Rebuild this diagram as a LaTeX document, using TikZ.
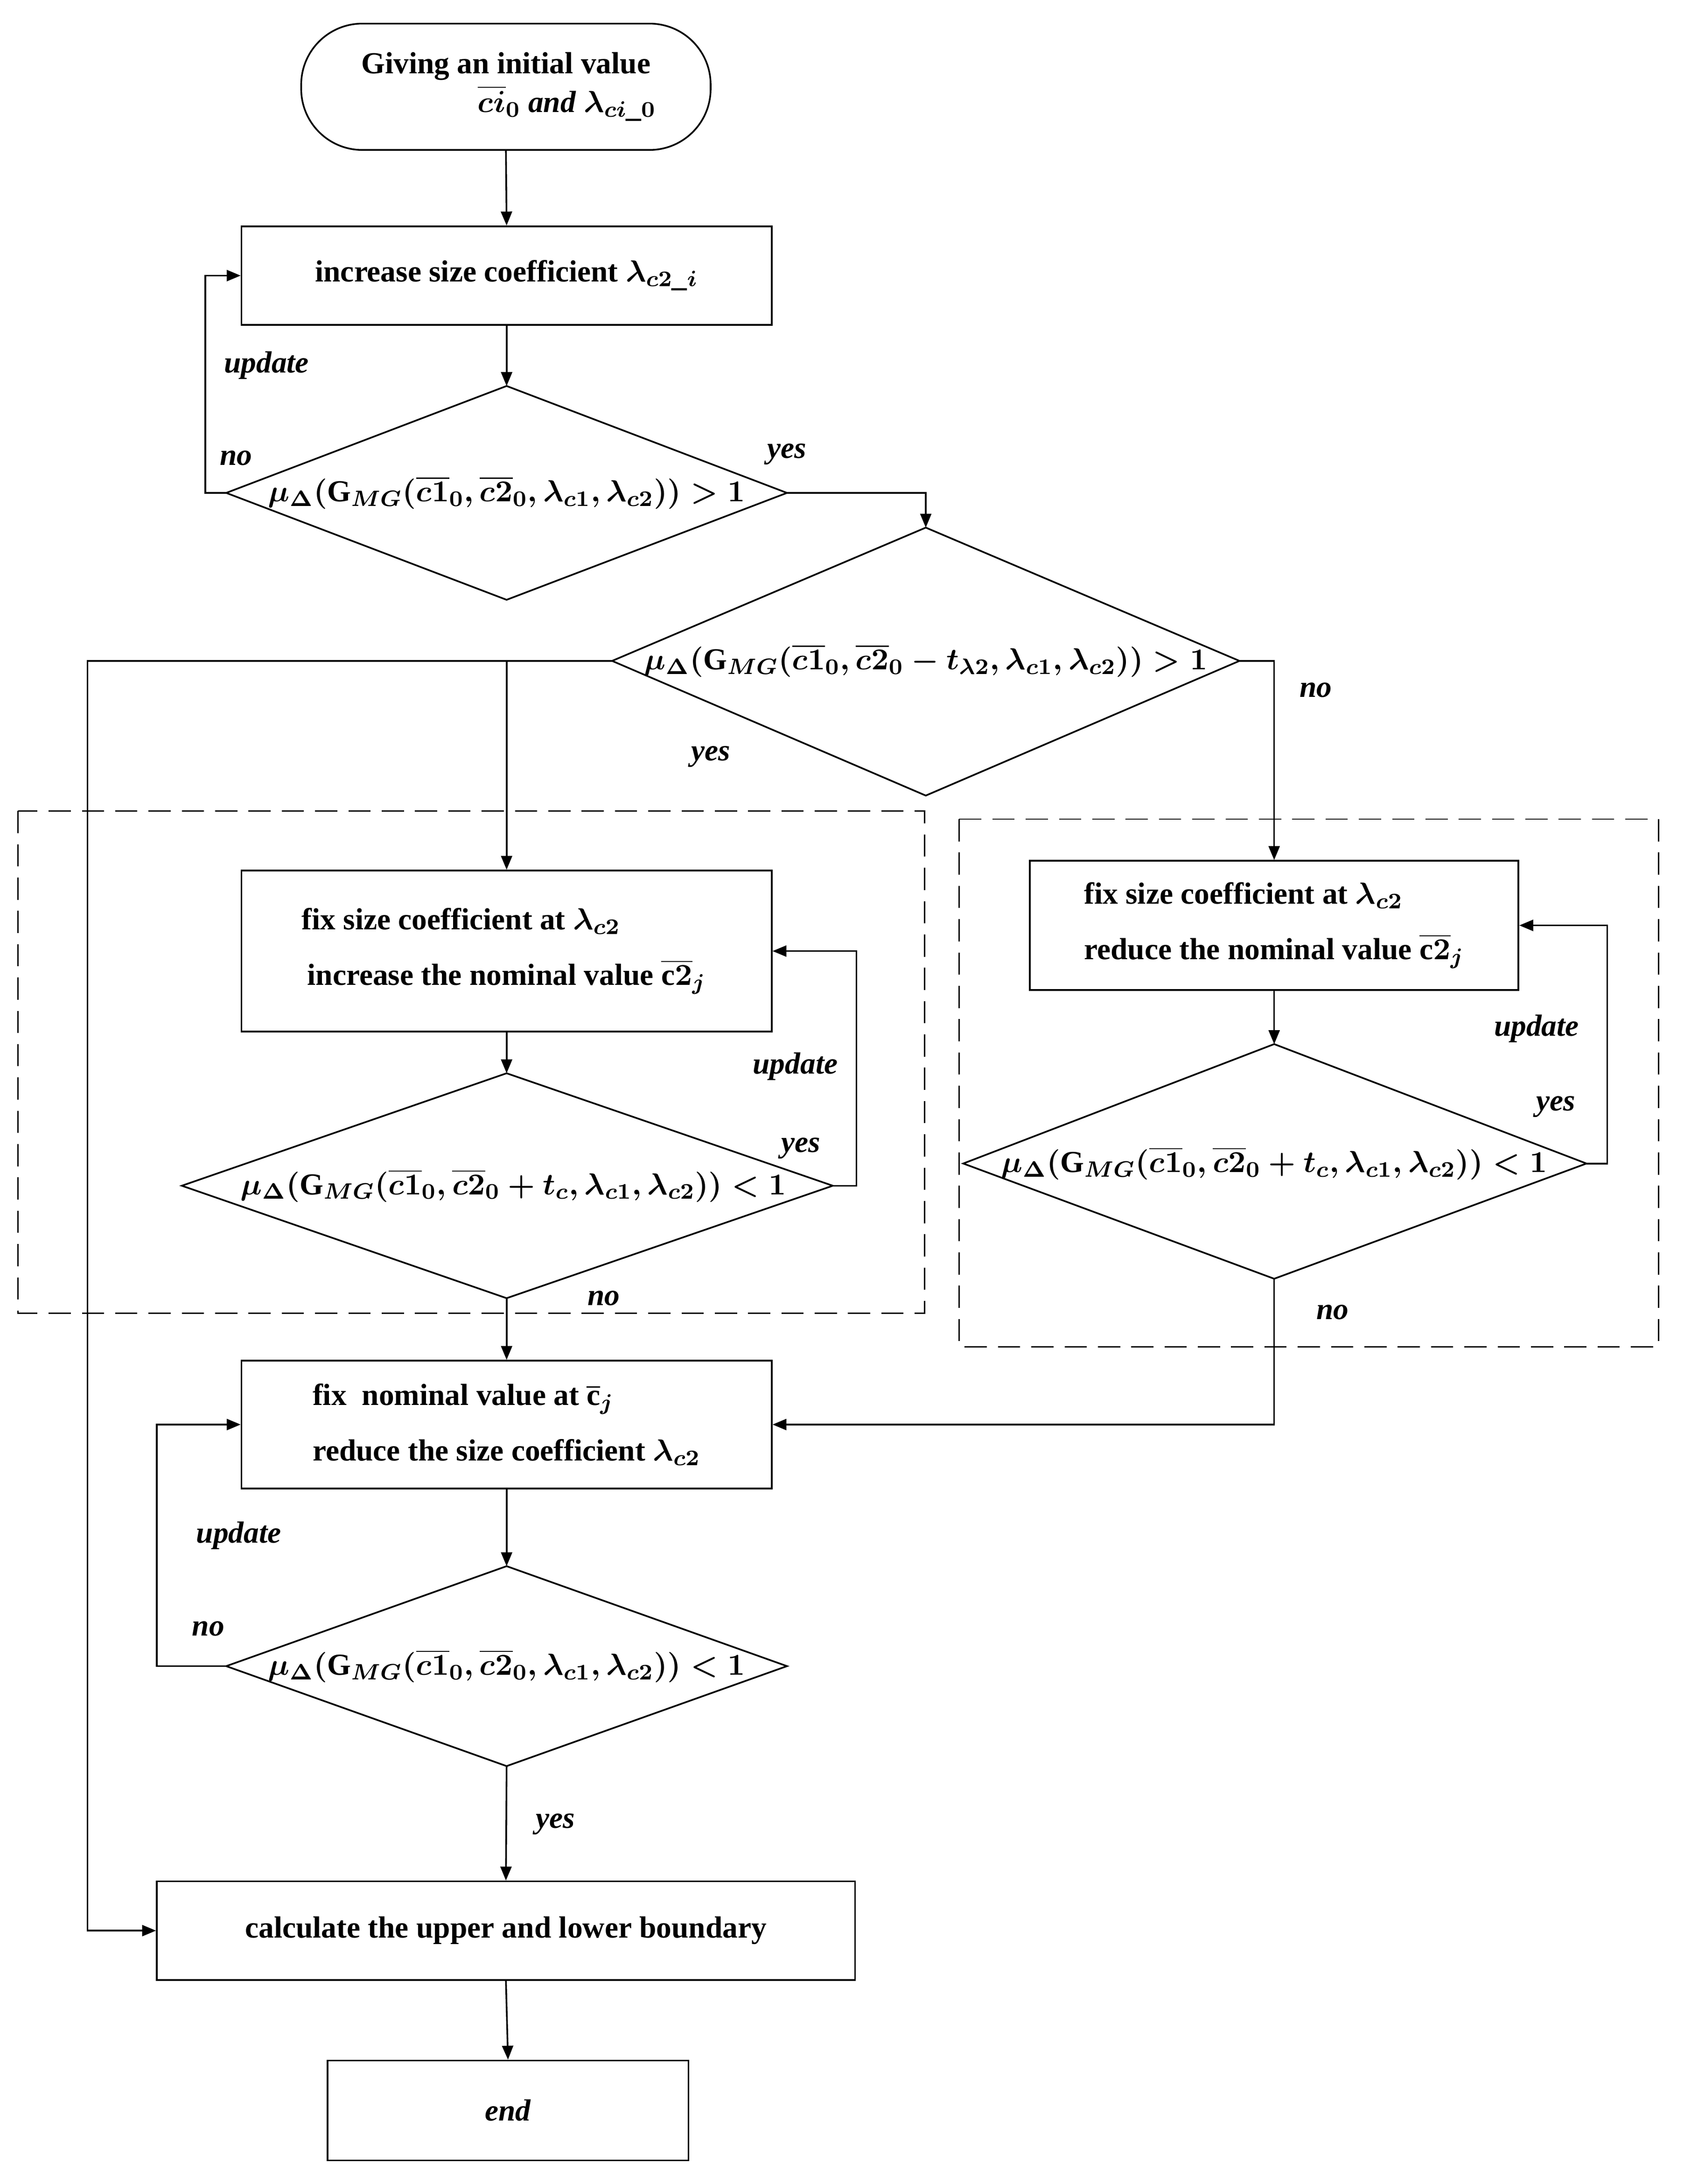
\documentclass[tikz,border=0pt]{standalone}
\usepackage{fontspec}
\setmainfont{Liberation Serif}
\usetikzlibrary{arrows.meta}
\begin{document}
\begin{tikzpicture}[x=0.5pt,y=-0.5pt,font=\fontsize{11}{14}\selectfont\bfseries\boldmath,
  line width=0.6pt, >={Triangle[length=5pt,width=4pt]},
  box/.style={draw,minimum width=#1*0.5pt,inner sep=0pt,align=left},
  lab/.style={font=\fontsize{11}{13}\selectfont\bfseries\itshape},
  dsh/.style={draw,dash pattern=on 8pt off 4pt,line width=0.5pt}]
\useasboundingbox (0,0) rectangle (1213,1573);
% start
\node[draw,rounded corners=22pt,minimum width=147.5pt,minimum height=45.5pt,align=center] (s) at (364.5,62.5) {Giving an initial value\\ \hspace*{4em}$\overline{ci}_0$ \textit{and} $\lambda_{ci\_0}$};
\node[box=382,minimum height=35.5pt,align=center] (b1) at (365,198.5) {increase size coefficient $\lambda_{c2\_i}$};
\coordinate (d1t) at (365,278); \coordinate (d1b) at (365,432); \coordinate (d1l) at (163,355); \coordinate (d1r) at (567,355);
\draw (d1t)--(d1r)--(d1b)--(d1l)--cycle;
\node (d1) at (365,355) {$\mu_\Delta(\mathrm{G}_{MG}(\overline{c1}_0,\overline{c2}_0,\lambda_{c1},\lambda_{c2}))>1$};
\coordinate (d2t) at (667,380); \coordinate (d2b) at (667,573); \coordinate (d2l) at (441,476); \coordinate (d2r) at (893,476);
\draw (d2t)--(d2r)--(d2b)--(d2l)--cycle;
\node (d2) at (667,476) {$\mu_\Delta(\mathrm{G}_{MG}(\overline{c1}_0,\overline{c2}_0-t_{\lambda2},\lambda_{c1},\lambda_{c2}))>1$};
\draw[dsh] (13,584) rectangle (666,946);
\draw[dsh] (691,590) rectangle (1195,970);
\node[box=382,minimum height=58pt,inner sep=0pt] (b3) at (365,685) {\hspace*{-2pt}fix size coefficient at $\lambda_{c2}$\\[6pt]increase the nominal value $\overline{\mathrm{c}2}_j$};
\coordinate (d3t) at (365,773); \coordinate (d3b) at (365,935); \coordinate (d3l) at (131,854); \coordinate (d3r) at (600,854);
\draw (d3t)--(d3r)--(d3b)--(d3l)--cycle;
\node (d3) at (370,854) {$\mu_\Delta(\mathrm{G}_{MG}(\overline{c1}_0,\overline{c2}_0+t_c,\lambda_{c1},\lambda_{c2}))<1$};
\node[box=352,minimum height=46.5pt] (b4) at (918,666.5) {fix size coefficient at $\lambda_{c2}$\\[6pt]reduce the nominal value $\overline{\mathrm{c}2}_j$};
\coordinate (d4t) at (918,752); \coordinate (d4b) at (918,921); \coordinate (d4l) at (694,838); \coordinate (d4r) at (1143,838);
\draw (d4t)--(d4r)--(d4b)--(d4l)--cycle;
\node (d4) at (918,838) {$\mu_\Delta(\mathrm{G}_{MG}(\overline{c1}_0,\overline{c2}_0+t_c,\lambda_{c1},\lambda_{c2}))<1$};
\node[box=382,minimum height=46pt] (b5) at (365,1026) {fix\ \ nominal value at $\overline{\mathrm{c}}_j$\\[6pt]reduce the size coefficient $\lambda_{c2}$};
\coordinate (d5t) at (365,1128); \coordinate (d5b) at (365,1272); \coordinate (d5l) at (163,1200); \coordinate (d5r) at (567,1200);
\draw (d5t)--(d5r)--(d5b)--(d5l)--cycle;
\node (d5) at (365,1200) {$\mu_\Delta(\mathrm{G}_{MG}(\overline{c1}_0,\overline{c2}_0,\lambda_{c1},\lambda_{c2}))<1$};
\node[box=503,minimum height=35.5pt,align=center] (b6) at (364.5,1390.5) {calculate the upper and lower boundary};
\node[box=260,minimum height=36pt,align=center] (e) at (366,1520) {\textit{end}};
% connectors
\draw[->] (s.south) -- (b1.north);
\draw[->] (b1.south) -- (d1t);
\draw[->] (d1l) -- (148,355) |- (b1.west);
\draw[->] (d1r) -- (667,355) -- (d2t);
\draw[->] (d2l) -- (63,476) |- (b6.west);
\draw[->] (365,476) -- (b3.north);
\draw[->] (d2r) -- (918,476) -- (b4.north);
\draw[->] (b3.south) -- (d3t);
\draw[->] (d3r) -- (617,854) |- (b3.east);
\draw[->] (d3b) -- (b5.north);
\draw[->] (b4.south) -- (d4t);
\draw[->] (d4r) -- (1158,838) |- (b4.east);
\draw[->] (d4b) |- (b5.east);
\draw[->] (b5.south) -- (d5t);
\draw[->] (d5l) -- (113,1200) |- (b5.west);
\draw[->] (d5b) -- (b6.north);
\draw[->] (b6.south) -- (e.north);
% labels
\node[lab] at (192,263) {update};
\node[lab] at (170,330) {no};
\node[lab] at (567,327) {yes};
\node[lab] at (948,497) {no};
\node[lab] at (512,545) {yes};
\node[lab] at (573,768) {update};
\node[lab] at (577,827) {yes};
\node[lab] at (435,935) {no};
\node[lab] at (1107,741) {update};
\node[lab] at (1121,797) {yes};
\node[lab] at (960,945) {no};
\node[lab] at (172,1106) {update};
\node[lab] at (150,1173) {no};
\node[lab] at (400,1314) {yes};
\end{tikzpicture}
\end{document}
